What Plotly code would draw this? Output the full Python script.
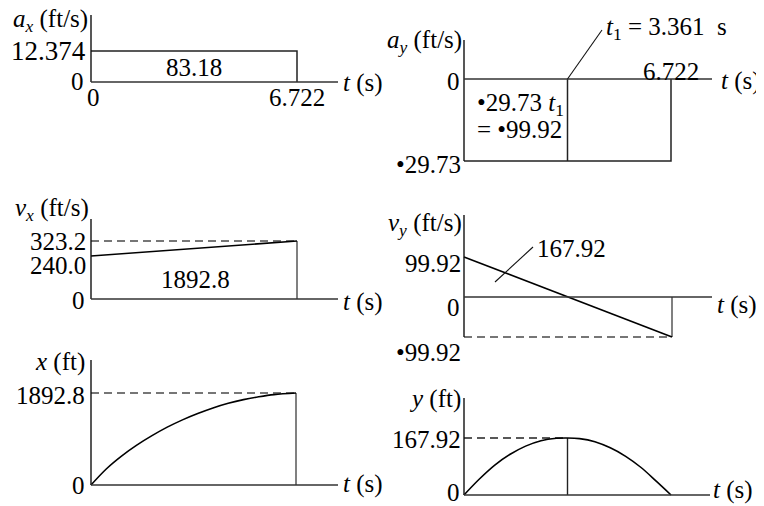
import plotly.graph_objects as go

# The page body has an 8 px margin, so the figure is made 8 px smaller and all
# reference pixel positions are shifted by that margin.
OFF = 8
W, H = 764 - OFF, 506 - OFF

# ---------------- data ----------------
T_END = 6.722          # s
T1 = 3.361             # s
AX = 12.374            # ft/s^2
AY = -29.73            # ft/s^2
VX0, VX1 = 240.0, 323.2
VY0, VY1 = 99.92, -99.92
X_END = 1892.8
Y_MAX = 167.92

x_t = [0, 0.5, 1, 1.5, 2, 2.5, 3, 3.5, 4, 4.5, 5, 5.5, 6, 6.722]
x_ft = [0, 330, 595, 820, 1015, 1190, 1340, 1470, 1585, 1680, 1757, 1815, 1860, 1892.8]

y_t = [0, 0.5, 1, 1.5, 2, 2.5, 3, 3.361, 3.75, 4.25, 4.75, 5.25, 5.75, 6.25, 6.722]
y_ft = [0, 47, 88, 120, 144, 160, 167, 167.92, 166, 157, 139, 114, 81, 40, 0]

area_ax = "83.18"
area_vx = "1892.8"
area_vy = "167.92"

# ---------------- layout helpers ----------------
FONT = "Liberation Serif"
FS = 25
AXC = "#333333"
PAD = 8


def xp(px):
    return (px - OFF) / W


def yp(py):
    return 1 - (py - OFF) / H


class Panel:
    def __init__(self, n, L, R, cal, ytop, ybot, xend):
        self.n = n
        self.L, self.R = L, R
        (self.v0, self.p0), (self.v1, self.p1) = cal
        self.ytop, self.ybot, self.xend = ytop, ybot, xend

    def t(self, px):
        return (px - self.L) / (self.R - self.L) * T_END

    def v(self, py):
        return self.v0 + (py - self.p0) * (self.v1 - self.v0) / (self.p1 - self.p0)

    def px(self, t):
        return self.L + t / T_END * (self.R - self.L)

    def py(self, v):
        return self.p0 + (v - self.v0) * (self.p1 - self.p0) / (self.v1 - self.v0)

    @property
    def xa(self):
        return "x" if self.n == 1 else f"x{self.n}"

    @property
    def ya(self):
        return "y" if self.n == 1 else f"y{self.n}"


P = {
    1: Panel(1, 91, 297, ((0, 82), (AX, 51)), 15, 82, 338),
    2: Panel(2, 464, 671, ((0, 79), (AY, 161)), 40, 161, 712),
    3: Panel(3, 91, 297, ((0, 299), (VX1, 241)), 219, 299, 338),
    4: Panel(4, 464, 672, ((0, 297), (VY1, 337)), 215, 337, 712),
    5: Panel(5, 91, 296, ((0, 485), (X_END, 393)), 360, 485, 338),
    6: Panel(6, 464, 671, ((0, 495), (Y_MAX, 438)), 398, 495, 710),
}

fig = go.Figure()
layout = dict(width=W, height=H, margin=dict(l=0, r=0, t=0, b=0, pad=0),
              paper_bgcolor="white", plot_bgcolor="rgba(0,0,0,0)",
              showlegend=False, autosize=False)

shapes = []
for n, p in P.items():
    xd = [max(0, xp(p.L - PAD)), min(1, xp(p.xend + PAD))]
    yd = [max(0, yp(p.ybot + PAD)), min(1, yp(p.ytop - PAD))]
    x_lo, x_hi = xd[0] * W + OFF, xd[1] * W + OFF
    y_lo, y_hi = (1 - yd[0]) * H + OFF, (1 - yd[1]) * H + OFF
    common = dict(showgrid=False, zeroline=False, showticklabels=False,
                  showline=False, ticks="", fixedrange=True)
    layout["xaxis" if n == 1 else f"xaxis{n}"] = dict(
        domain=xd, range=[p.t(x_lo), p.t(x_hi)], anchor=p.ya, **common)
    layout["yaxis" if n == 1 else f"yaxis{n}"] = dict(
        domain=yd, range=[p.v(y_lo), p.v(y_hi)], anchor=p.xa, **common)
    # axis lines
    shapes.append(dict(type="line", xref=p.xa, yref=p.ya,
                       x0=0, x1=0, y0=p.v(p.ytop), y1=p.v(p.ybot),
                       line=dict(color="#111", width=1.4)))
    shapes.append(dict(type="line", xref=p.xa, yref=p.ya,
                       x0=0, x1=p.t(p.xend), y0=0, y1=0,
                       line=dict(color=AXC, width=1.4)))


def line(n, xs, ys, color="#000", width=1.6, dash="solid", shape="linear"):
    p = P[n]
    fig.add_trace(go.Scatter(x=xs, y=ys, mode="lines", xaxis=p.xa, yaxis=p.ya,
                             line=dict(color=color, width=width, dash=dash, shape=shape),
                             hoverinfo="skip", cliponaxis=False))


DASH = "8px,5px"
DROP = "#4a4a4a"

# a_x
line(1, [0, T_END, T_END], [AX, AX, 0], color="#222", width=1.5)
# a_y
line(2, [0, T_END, T_END], [AY, AY, 0], color="#222", width=1.5)
line(2, [T1, T1], [AY, 0], color="#222", width=1.5)
# v_x
line(3, [0, T_END], [VX1, VX1], color=DROP, width=1.3, dash=DASH)
line(3, [T_END, T_END], [VX1, 0], color=DROP, width=1.4)
line(3, [0, T_END], [VX0, VX1])
# v_y
line(4, [0, T_END], [VY1, VY1], color=DROP, width=1.3, dash=DASH)
line(4, [T_END, T_END], [VY1, 0], color=DROP, width=1.4)
line(4, [0, T_END], [VY0, VY1])
# x
line(5, [0, T_END], [X_END, X_END], color=DROP, width=1.3, dash=DASH)
line(5, [T_END, T_END], [X_END, 0], color=DROP, width=1.4)
line(5, x_t, x_ft, shape="spline")
# y
line(6, [0, T1], [Y_MAX, Y_MAX], color="#222", width=1.3, dash=DASH)
line(6, [T1, T1], [Y_MAX, 0], color="#222", width=1.4)
line(6, y_t, y_ft, shape="spline")


def leader(x0px, y0px, x1px, y1px):
    shapes.append(dict(type="line", xref="paper", yref="paper",
                       x0=xp(x0px), x1=xp(x1px), y0=yp(y0px), y1=yp(y1px),
                       line=dict(color="#111", width=1.1)))


leader(P[2].px(T1), P[2].py(0), 602, 30)
leader(495, 282, 533, 247)

annotations = []


def ann(text, xpx, ypx, xanchor="center", size=FS):
    annotations.append(dict(text=text, x=xp(xpx), y=yp(ypx), xref="paper", yref="paper",
                            xanchor=xanchor, yanchor="middle", showarrow=False,
                            borderpad=0, font=dict(family=FONT, size=size, color="#000")))


TS = "<i>t</i> (s)"
# panel 1
ann("<i>a</i><sub><i>x</i></sub> (ft/s)", 89, 21, "right")
ann(f"{AX:.3f}", 87, P[1].py(AX), "right", size=27)
ann("0", 85, P[1].py(0) - 1, "right")
ann("0", P[1].px(0) + 2, 97)
ann(f"{T_END:.3f}", P[1].px(T_END), 97)
ann(area_ax, P[1].px(T_END / 2), 68)
ann(TS, 342, 83, "left")
# panel 2
ann("<i>a</i><sub><i>y</i></sub> (ft/s)", 463, 41, "right")
ann(f"<i>t</i><sub>1</sub> = {T1:.3f}\u00a0 s", 605, 29, "left")
ann(f"{T_END:.3f}", P[2].px(T_END), 71)
ann("0", 461, P[2].py(0) + 2, "right")
ann(TS, 720, 81, "left")
ann(f"•{abs(AY):.2f} <i>t</i><sub>1</sub>", 476, 105, "left")
ann(f"= •{abs(VY1):.2f}", 476, 129, "left")
ann(f"•{abs(AY):.2f}", 462, 165, "right")
# panel 3
ann("<i>v</i><sub><i>x</i></sub> (ft/s)", 90, 210, "right")
ann(f"{VX1:.1f}", 87, P[3].py(VX1), "right")
ann(f"{VX0:.1f}", 87, 265, "right")
ann("0", 86, P[3].py(0) + 1, "right")
ann(area_vx, P[3].px(T_END / 2) + 1, 279)
ann(TS, 342, 302, "left")
# panel 4
ann("<i>v</i><sub><i>y</i></sub> (ft/s)", 463, 224, "right")
ann(f"{VY0:.2f}", 462, 264, "right")
ann(area_vy, 536, 248, "left")
ann("0", 461, 307, "right")
ann(TS, 716, 305, "left")
ann(f"•{abs(VY1):.2f}", 462, 352, "right")
# panel 5
ann("<i>x</i> (ft)", 86, 362, "right")
ann(f"{X_END:.1f}", 86, P[5].py(X_END) + 2, "right")
ann("0", 86, P[5].py(0), "right")
ann(TS, 342, 484, "left")
# panel 6
ann("<i>y</i> (ft)", 462, 399, "right")
ann(f"{Y_MAX:.2f}", 462, P[6].py(Y_MAX) + 1, "right")
ann("0", 461, 492, "right")
ann(TS, 712, 490, "left")

layout["shapes"] = shapes
layout["annotations"] = annotations
fig.update_layout(**layout)
fig.write_html("out.html")
